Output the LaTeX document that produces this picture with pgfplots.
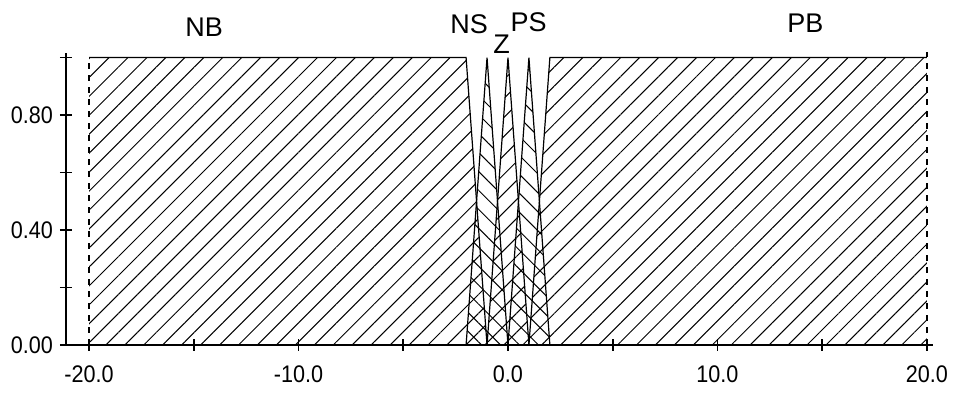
\documentclass[border=0pt]{standalone}
\usepackage{fontspec}
\setmainfont{Liberation Sans}
\newfontfamily\ticknarrow[FakeStretch=0.9]{Liberation Sans}
\usepackage{pgfplots}
\pgfplotsset{compat=1.18}
\usetikzlibrary{patterns.meta}
\begin{document}
\begin{tikzpicture}
\useasboundingbox (-33pt,-24.5pt) rectangle (446pt,172.5pt);
\begin{axis}[
  scale only axis, width=433.5pt, height=146pt,
  xmin=-21.1, xmax=20.29, ymin=0, ymax=1.016,
  axis x line=bottom, axis y line=left,
  axis line style={-, line width=0.8pt},
  xtick={-20,-10,0,10,20}, minor xtick={-15,-5,5,15},
  ytick={0,0.4,0.8}, minor ytick={0.2,0.6,1.0},
  tick align=center, major tick length=6pt, minor tick length=6pt,
  tick style={black, line width=0.8pt},
  xticklabel style={yshift=-4pt, /pgf/number format/.cd, fixed, fixed zerofill, precision=1},
  yticklabel style={/pgf/number format/.cd, fixed, fixed zerofill, precision=2},
  /pgf/number format/assume math mode=true,
  ticklabel style={font=\ticknarrow\fontsize{12}{14}\selectfont},
  clip=false,
]
% NB
\addplot[draw=none, pattern={Lines[angle=45,distance=6.7pt,line width=0.5pt]}, pattern color=black]
  coordinates {(-20,0) (-20,1) (-2,1) (-1,0)} \closedcycle;
% NS
\addplot[draw=none, pattern={Lines[angle=-45,distance=6.7pt,line width=0.5pt]}, pattern color=black]
  coordinates {(-2,0) (-1,1) (0,0)} \closedcycle;
% Z
\addplot[draw=none, pattern={Lines[angle=45,distance=6.7pt,line width=0.5pt]}, pattern color=black]
  coordinates {(-1,0) (0,1) (1,0)} \closedcycle;
% PS
\addplot[draw=none, pattern={Lines[angle=-45,distance=6.7pt,line width=0.5pt]}, pattern color=black]
  coordinates {(0,0) (1,1) (2,0)} \closedcycle;
% PB
\addplot[draw=none, pattern={Lines[angle=45,distance=6.7pt,line width=0.5pt]}, pattern color=black]
  coordinates {(1,0) (2,1) (20,1) (20,0)} \closedcycle;
% outlines
\addplot[black, line width=0.6pt] coordinates {(-20,1) (-2,1) (-1,0)};
\addplot[black, dashed, line width=0.6pt] coordinates {(-20,0) (-20,1)};
\addplot[black, line width=0.6pt] coordinates {(-2,0) (-1,1) (0,0)};
\addplot[black, line width=0.6pt] coordinates {(-1,0) (0,1) (1,0)};
\addplot[black, line width=0.6pt] coordinates {(0,0) (1,1) (2,0)};
\addplot[black, line width=0.6pt] coordinates {(1,0) (2,1) (20,1)};
\addplot[black, dashed, line width=0.6pt] coordinates {(20,0) (20,1.02)};
% labels
\node[font=\fontsize{13.5}{15}\selectfont] at (axis cs:-14.5,1.104) {NB};
\node[font=\fontsize{13.5}{15}\selectfont] at (axis cs:-1.85,1.117) {NS};
\node[font=\fontsize{13.5}{15}\selectfont] at (axis cs:-0.3,1.045) {Z};
\node[font=\fontsize{13.5}{15}\selectfont] at (axis cs:0.98,1.122) {PS};
\node[font=\fontsize{13.5}{15}\selectfont] at (axis cs:14.2,1.118) {PB};
\end{axis}
\end{tikzpicture}
\end{document}
